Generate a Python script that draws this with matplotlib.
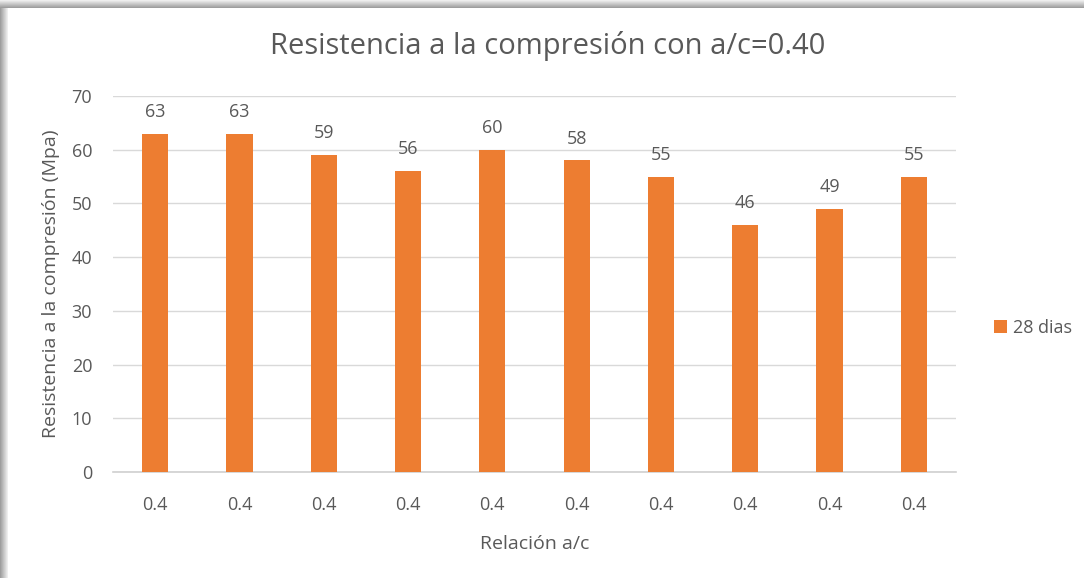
import matplotlib
matplotlib.use("Agg")
import matplotlib.pyplot as plt
from matplotlib.patches import Rectangle
import numpy as np

plt.rcParams['font.family'] = ['Open Sans', 'DejaVu Sans']

categories = ["0.4"] * 10
values = [63, 63, 59, 56, 60, 58, 55, 46, 49, 55]
series_name = "28 dias"
title = "Resistencia a la compresión con a/c=0.40"
xlabel = "Relación a/c"
ylabel = "Resistencia a la compresión (Mpa)"
yticks = [0, 10, 20, 30, 40, 50, 60, 70]

W, H = 1084, 578
fig = plt.figure(figsize=(W / 100, H / 100), dpi=100)
fig.patch.set_facecolor("white")

# soft frame shadow along top and left edges
for i in range(8):
    g = 0.62 + i * 0.045
    fig.add_artist(Rectangle((0, 1 - (8 - i) / H), 1, 1 / H, transform=fig.transFigure,
                             color=(g, g, g), lw=0, zorder=-1))
    fig.add_artist(Rectangle((i / W, 0), 1 / W, 1 - 8 / H, transform=fig.transFigure,
                             color=(g, g, g), lw=0, zorder=-1))

ax = fig.add_axes([113 / W, 1 - 472 / H, (956 - 113) / W, (472 - 96) / H])
x = np.arange(len(values))
orange = "#ED7D31"
bars = ax.bar(x, values, width=0.31, color=orange, label=series_name, zorder=3)

text_color = "#595959"
for xi, v in zip(x, values):
    ax.text(xi, v + 2.4, f"{v}", ha="center", va="bottom", fontsize=13, color=text_color)

ax.set_xlim(-0.5, len(values) - 0.5)
ax.set_ylim(0, 70)
ax.set_yticks(yticks)
ax.set_yticklabels([str(t) for t in yticks], fontsize=13, color=text_color)
ax.set_xticks(x)
ax.set_xticklabels(categories, fontsize=13, color=text_color)
ax.tick_params(axis="both", length=0)
ax.tick_params(axis="x", pad=17.5)
ax.tick_params(axis="y", pad=15)
ax.grid(axis="y", color="#D9D9D9", lw=1, zorder=0)
for s in ["top", "right", "left"]:
    ax.spines[s].set_visible(False)
ax.spines["bottom"].set_color("#D0D0D0")
ax.spines["bottom"].set_linewidth(1.2)

ax.set_xlabel(xlabel, fontsize=14, color=text_color, labelpad=15)
ax.set_ylabel(ylabel, fontsize=14, color=text_color, labelpad=8)

fig.text(548 / W, 1 - 46 / H, title, ha="center", va="center", fontsize=21, color=text_color)

leg = fig.legend(handles=[bars], labels=[series_name], loc="center left",
                 bbox_to_anchor=(994 / W, 1 - 328 / H), frameon=False, fontsize=13,
                 borderpad=0, borderaxespad=0,
                 handlelength=0.7, handleheight=0.7, handletextpad=0.35)
for t in leg.get_texts():
    t.set_color(text_color)

fig.savefig("out.png", dpi=100, facecolor="white")
